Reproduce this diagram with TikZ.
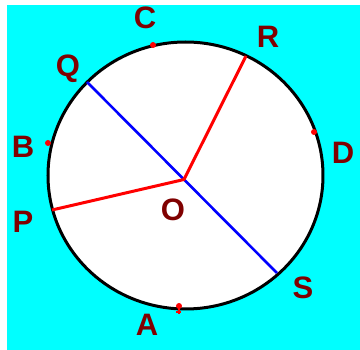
\documentclass[tikz,border=0pt]{standalone}
\usepackage{fontspec}
\setmainfont{Liberation Sans}
\begin{document}
\begin{tikzpicture}[x=1pt,y=-1pt,
  lbl/.style={inner sep=0pt,text=labelred,font=\fontsize{31}{31}\selectfont\bfseries},
  dotmark/.style={fill=pure red,draw=none},
  redline/.style={draw=pure red,line width=3pt},
  blueline/.style={draw=pure blue,line width=2.6pt}]
\definecolor{labelred}{RGB}{128,0,0}
\definecolor{bgcyan}{RGB}{0,255,255}
\definecolor{pure red}{RGB}{255,0,0}
\definecolor{pure blue}{RGB}{0,0,255}
\useasboundingbox (0,0) rectangle (360,350);
\fill[white] (0,0) rectangle (360,350);
\fill[bgcyan] (7,5) rectangle (360,350);
% circle
\filldraw[fill=white,draw=black,line width=3pt] (185.5,175.5) ellipse [x radius=137.5, y radius=133.5];
% points
\coordinate (O) at (184,179.5);
\coordinate (P) at (52,210);
\coordinate (Q) at (87,82);
\coordinate (R) at (246,56);
\coordinate (S) at (277,273);
\draw[blueline] (Q) -- (S);
\draw[redline,line join=round] (P) -- (O) -- (R);
% marks
\coordinate (mA) at (179,306);
\coordinate (mB) at (48,143);
\coordinate (mC) at (153,45);
\coordinate (mD) at (314,132);
\fill[dotmark] (mA) circle (3);
\fill[dotmark] (mB) circle (3);
\fill[dotmark] (mC) circle (3);
\fill[dotmark] (mD) circle (3);
\draw[pure red,line width=1.5pt] (mA) -- ++(0,8) (176.5,312) -- (181.5,312);
% labels
\node[lbl] (lC) at (145,18) {C};
\node[lbl] (lR) at (268,37) {R};
\node[lbl] (lQ) at (68,69) {Q};
\node[lbl] (lB) at (23,147) {B};
\node[lbl] (lD) at (343,153) {D};
\node[lbl] (lP) at (23,222) {P};
\node[lbl] (lO) at (173,210) {O};
\node[lbl] (lS) at (303,288) {S};
\node[lbl] (lA) at (147,325) {A};
\end{tikzpicture}
\end{document}
